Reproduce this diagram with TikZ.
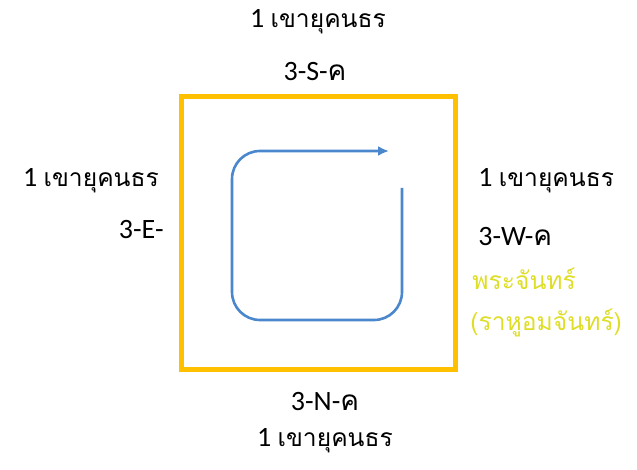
\documentclass[tikz,border=0pt]{standalone}
\usepackage{fontspec}
\setmainfont{Carlito}
\newfontfamily\thaifont[Script=Thai,Scale=0.88]{Loma}
\newfontfamily\thaikho[Script=Thai]{Loma}
\usetikzlibrary{arrows.meta}
\definecolor{frameorange}{RGB}{255,192,0}
\definecolor{loopblue}{RGB}{75,135,205}
\definecolor{moonyellow}{RGB}{222,222,40}
\newcommand{\mountain}{1 {\thaifont เขายุคนธร}}
\newcommand{\kho}{{\thaikho ค}}

\begin{document}
\begin{tikzpicture}[x=0.5pt,y=-0.5pt,
		lbl/.style={inner sep=0pt, font=\fontsize{14}{16}\selectfont},
		moon/.style={lbl, anchor=west, text=moonyellow}]
		\useasboundingbox (0,0) rectangle (637,470);

		\draw[frameorange, line width=2.5pt] (181,97) rectangle (455,369);
		\draw[loopblue, line width=1.3pt, rounded corners=14pt, -{Latex[length=5.5pt,width=5pt]}]
			(402,188) -- (402,320) -- (232,320) -- (232,151) -- (389,151);

		\node[lbl] (mtS) at (318,22) {\mountain};
		\node[lbl] (dirS) at (315,72) {3-S-\kho};

		\node[lbl] (mtE) at (91,181) {\mountain};
		\node[lbl, anchor=east] (dirE) at (164,230) {3-E-};

		\node[lbl, anchor=west] (mtW) at (478,181) {\mountain};
		\node[lbl, anchor=west] (dirW) at (478,237) {3-W-\kho};
		\node[moon] (moon1) at (472,279) {\thaifont พระจันทร์};
		\node[moon] (moon2) at (470,323) {\thaifont (ราหูอมจันทร์)};

		\node[lbl] (dirN) at (325,402) {3-N-\kho};
		\node[lbl] (mtN) at (325,441) {\mountain};

	\end{tikzpicture}
\end{document}
